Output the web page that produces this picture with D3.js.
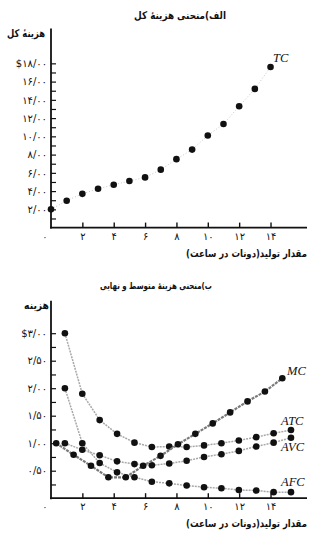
<!DOCTYPE html>
<html lang="fa">
<head>
<meta charset="utf-8">
<script src="https://cdn.jsdelivr.net/npm/d3@7"></script>
<style>
  html, body { margin: 0; padding: 0; background: #fff; }
  svg { display: block; }
  .fa { font-family: "DejaVu Sans", sans-serif; fill: #111; }
  .curve-label { font-family: "Liberation Serif", "DejaVu Serif", serif; font-style: italic; font-size: 12.5px; fill: #111; }
</style>
</head>
<body>
<div id="chart"></div>
<script>
// panel A: total cost
const tcQuantity = [0, 1, 2, 3, 4, 5, 6, 7, 8, 9, 10, 11, 12, 13, 14];
const totalCost = [2.0, 2.95, 3.7, 4.25, 4.7, 5.1, 5.5, 6.35, 7.5, 8.55, 10.1, 11.35, 13.3, 15.2, 17.6];

// panel B: average and marginal cost
const avgQuantity = [1, 2, 3, 4, 5, 6, 7, 8, 9, 10, 11, 12, 13, 14];
const mcQuantity = [0.5, 1.5, 2.5, 3.5, 4.5, 5.5, 6.5, 7.5, 8.5, 9.5, 10.5, 11.5, 12.5, 13.5];
const atc = [3.0, 1.9, 1.42, 1.17, 1.01, 0.93, 0.94, 0.93, 0.96, 1.0, 1.05, 1.11, 1.18, 1.24];
const avc = [1.0, 0.88, 0.78, 0.67, 0.62, 0.6, 0.63, 0.68, 0.75, 0.8, 0.86, 0.94, 1.01, 1.1];
const afc = [2.0, 1.0, 0.64, 0.47, 0.38, 0.3, 0.27, 0.23, 0.2, 0.18, 0.15, 0.14, 0.11, 0.11];
const mc = [1.0, 0.79, 0.59, 0.38, 0.38, 0.59, 0.77, 0.98, 1.17, 1.36, 1.56, 1.76, 1.94, 2.18];

// ticks and labels
const xTicks = [2, 4, 6, 8, 10, 12, 14];
const xTickLabels = ["۲", "۴", "۶", "۸", "۱۰", "۱۲", "۱۴"];
const yTicksA = [2, 4, 6, 8, 10, 12, 14, 16, 18];
const yTickLabelsA = ["۲/۰۰", "۴/۰۰", "۶/۰۰", "۸/۰۰", "۱۰/۰۰", "۱۲/۰۰", "۱۴/۰۰", "۱۶/۰۰", "$۱۸/۰۰"];
const yTicksB = [0.5, 1, 1.5, 2, 2.5, 3];
const yTickLabelsB = ["۰/۵۰", "۱/۰۰", "۱/۵۰", "۲/۰۰", "۲/۵۰", "$۳/۰۰"];

const titleA = "الف)منحنی هزینهٔ کل";
const titleB = "ب)منحنی هزینهٔ متوسط و نهایی";
const yTitleA = "هزینهٔ کل";
const yTitleB = "هزینه";
const xTitle = "مقدار تولید(دونات در ساعت)";

document.addEventListener("DOMContentLoaded", () => {
  const width = 313;
  const height = 536;

  const svg = d3
    .select("#chart")
    .append("svg")
    .attr("width", width)
    .attr("height", height);

  const axisLeftX = 51;
  const axisRightX = 307;
  const pxPerUnit = 15.68; // x-axis tick spacing per unit

  // bold Persian label; the reference face has other proportions than
  // DejaVu, so scale horizontally to the width measured on the picture
  const faText = (g, txt, x, y, size, anchor, w) => {
    const t = g
      .append("text")
      .attr("class", "fa")
      .attr("x", 0)
      .attr("y", 0)
      .attr("text-anchor", anchor)
      .attr("font-size", size)
      .attr("font-weight", "bold")
      .text(txt);
    const w0 = t.node().getComputedTextLength() || w;
    t.attr("transform", `translate(${x},${y}) scale(${w / w0},1)`);
    return t;
  };

  const drawPanel = (opts) => {
    const g = svg.append("g");

    const x = d3
      .scaleLinear()
      .domain([0, (axisRightX - axisLeftX) / pxPerUnit])
      .range([axisLeftX, axisRightX]);

    const y = d3
      .scaleLinear()
      .domain(opts.yDomain)
      .range([opts.baseY, opts.topY]);

    faText(g, opts.title, opts.titleX, opts.titleY, opts.titleSize, "middle", opts.titleW);
    faText(g, opts.yTitle, opts.yTitleX, opts.topY + 7, 10.5, "end", opts.yTitleW);

    // y axis: ticks point inward, labels only on major values
    const labelOf = new Map(opts.yTicks.map((v, i) => [v, opts.yTickLabels[i]]));
    const yAxis = d3
      .axisLeft(y)
      .tickValues(opts.yMinor)
      .tickSize(-5)
      .tickPadding(4)
      .tickFormat((d) => labelOf.get(d) || "");

    const yAxisG = g
      .append("g")
      .attr("transform", `translate(${axisLeftX},0)`)
      .call(yAxis);
    yAxisG.select(".domain").remove();
    yAxisG.selectAll("line").attr("stroke", "#111").attr("stroke-width", 1.2);
    yAxisG
      .selectAll("text")
      .attr("font-size", 10)
      .attr("fill", "#111")
      .style("font-family", "DejaVu Sans, sans-serif");

    // x axis
    const xAxis = d3
      .axisBottom(x)
      .tickValues(xTicks)
      .tickSize(-5)
      .tickPadding(5)
      .tickFormat((d, i) => xTickLabels[i]);

    const xAxisG = g
      .append("g")
      .attr("transform", `translate(0,${opts.baseY})`)
      .call(xAxis);
    xAxisG.select(".domain").remove();
    xAxisG.selectAll("line").attr("stroke", "#111").attr("stroke-width", 1.4);
    xAxisG
      .selectAll("text")
      .attr("font-size", 10)
      .attr("fill", "#111")
      .style("font-family", "DejaVu Sans, sans-serif");

    g.append("text")
      .attr("class", "fa")
      .attr("x", axisLeftX - 6)
      .attr("y", opts.baseY + 12)
      .attr("text-anchor", "middle")
      .attr("font-size", 9)
      .text("۰");

    // axis lines
    g.append("line")
      .attr("x1", axisLeftX)
      .attr("x2", axisLeftX)
      .attr("y1", opts.topY - 1)
      .attr("y2", opts.baseY + 1)
      .attr("stroke", "#111")
      .attr("stroke-width", 1.8);
    g.append("line")
      .attr("x1", axisLeftX - 1)
      .attr("x2", axisRightX)
      .attr("y1", opts.baseY)
      .attr("y2", opts.baseY)
      .attr("stroke", "#111")
      .attr("stroke-width", 1.8);

    faText(g, xTitle, axisRightX, opts.baseY + 29, 10.5, "end", 121);

    return { g, x, y };
  };

  // ---------- panel A ----------
  const panelA = drawPanel({
    title: titleA,
    titleX: 180,
    titleY: 19,
    titleSize: 10.5,
    titleW: 92,
    yTitle: yTitleA,
    yTitleX: 45,
    yTitleW: 38,
    yDomain: [0, (227.6 - 29.5) / 9.125],
    baseY: 227.6,
    topY: 29.5,
    yTicks: yTicksA,
    yTickLabels: yTickLabelsA,
    yMinor: d3.range(1, 19),
  });

  const tcData = tcQuantity.map((q, i) => ({ q, v: totalCost[i] }));

  panelA.g
    .append("path")
    .datum(tcData)
    .attr("fill", "none")
    .attr("stroke", "#c8c8c8")
    .attr("stroke-width", 1)
    .attr("stroke-dasharray", "1,2")
    .attr(
      "d",
      d3
        .line()
        .x((d) => panelA.x(d.q))
        .y((d) => panelA.y(d.v))
    );

  panelA.g
    .selectAll("circle.tc")
    .data(tcData)
    .enter()
    .append("circle")
    .attr("class", "tc")
    .attr("cx", (d) => panelA.x(d.q))
    .attr("cy", (d) => panelA.y(d.v))
    .attr("r", 3.3)
    .attr("fill", "#111");

  panelA.g
    .append("text")
    .attr("class", "curve-label")
    .attr("x", 273)
    .attr("y", 62)
    .text("TC");

  // ---------- panel B ----------
  const panelB = drawPanel({
    title: titleB,
    titleX: 156,
    titleY: 289,
    titleSize: 9.5,
    titleW: 112,
    yTitle: yTitleB,
    yTitleX: 49,
    yTitleW: 25,
    yDomain: [0, (498.2 - 301.7) / 55],
    baseY: 498.2,
    topY: 301.7,
    yTicks: yTicksB,
    yTickLabels: yTickLabelsB,
    yMinor: d3.range(1, 13).map((k) => k * 0.25),
  });

  // the points in the reference sit on a slightly wider spacing than the tick labels
  const xPoints = d3.scaleLinear().domain([0, 14]).range([47.5, 291]);

  const series = [
    { name: "AFC", q: avgQuantity, v: afc, stroke: "#a8a8a8", sw: 1.5, dash: "2,1", lx: 281, ly: 486 },
    { name: "AVC", q: avgQuantity, v: avc, stroke: "#a8a8a8", sw: 1.5, dash: "2,1", lx: 281, ly: 451 },
    { name: "ATC", q: avgQuantity, v: atc, stroke: "#a8a8a8", sw: 1.5, dash: "2,1", lx: 281, ly: 425 },
    { name: "MC", q: mcQuantity, v: mc, stroke: "#7a7a7a", sw: 2.2, dash: "3,1", lx: 287, ly: 375 },
  ];

  const lineB = d3
    .line()
    .x((d) => xPoints(d.q))
    .y((d) => panelB.y(d.v));

  series.forEach((s) => {
    const pts = s.q.map((q, i) => ({ q, v: s.v[i] }));

    panelB.g
      .append("path")
      .datum(pts)
      .attr("fill", "none")
      .attr("stroke", s.stroke)
      .attr("stroke-width", s.sw)
      .attr("stroke-dasharray", s.dash)
      .attr("d", lineB);

    panelB.g
      .append("g")
      .selectAll("circle")
      .data(pts)
      .enter()
      .append("circle")
      .attr("cx", (d) => xPoints(d.q))
      .attr("cy", (d) => panelB.y(d.v))
      .attr("r", 3.3)
      .attr("fill", "#111");

    panelB.g
      .append("text")
      .attr("class", "curve-label")
      .attr("x", s.lx)
      .attr("y", s.ly)
      .text(s.name);
  });
});
</script>
</body>
</html>
